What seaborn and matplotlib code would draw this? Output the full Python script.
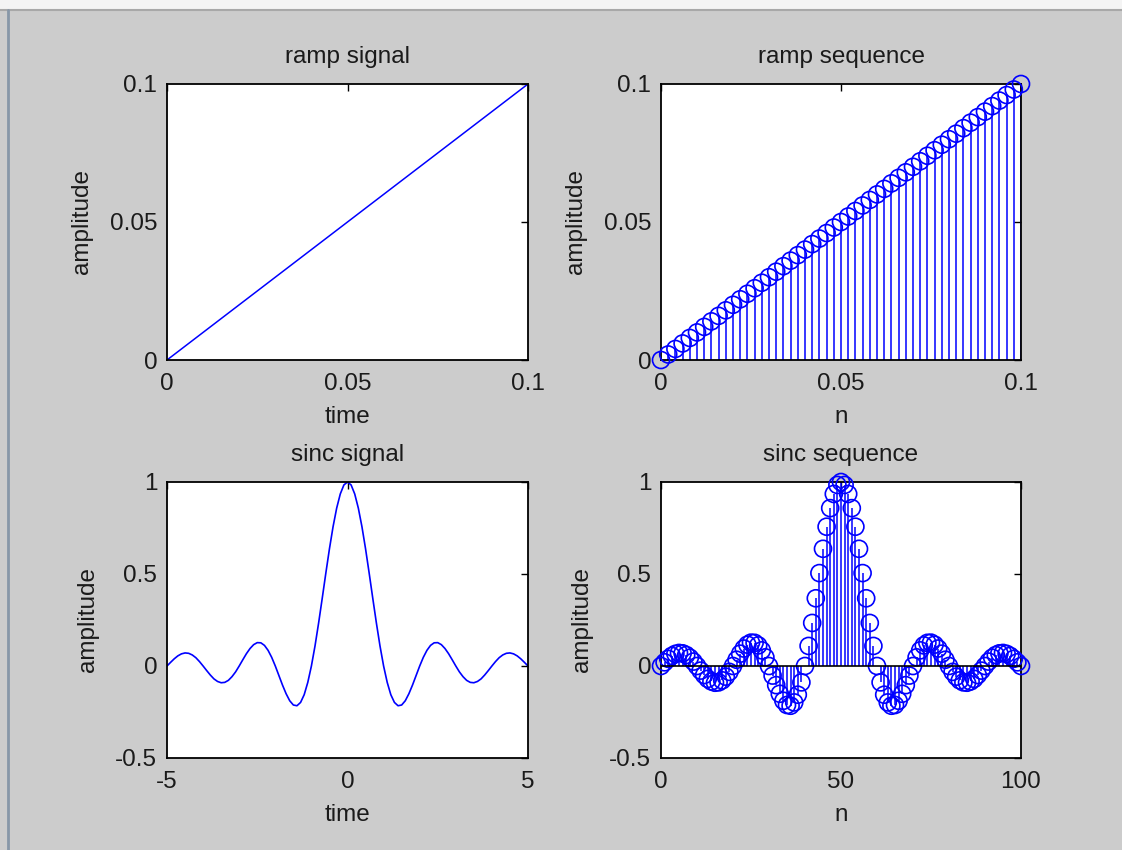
import numpy as np
import pandas as pd
import matplotlib
matplotlib.use("Agg")
import matplotlib.pyplot as plt
import seaborn as sns
from matplotlib.ticker import FormatStrFormatter
from matplotlib.patches import Rectangle
from matplotlib.lines import Line2D

# ramp: amplitude equals time / n, samples every 0.002
ramp_t = [0.0, 0.1]
ramp_amp = [0.0, 0.1]
ramp_n = [0.000, 0.002, 0.004, 0.006, 0.008, 0.010, 0.012, 0.014, 0.016, 0.018,
          0.020, 0.022, 0.024, 0.026, 0.028, 0.030, 0.032, 0.034, 0.036, 0.038,
          0.040, 0.042, 0.044, 0.046, 0.048, 0.050, 0.052, 0.054, 0.056, 0.058,
          0.060, 0.062, 0.064, 0.066, 0.068, 0.070, 0.072, 0.074, 0.076, 0.078,
          0.080, 0.082, 0.084, 0.086, 0.088, 0.090, 0.092, 0.094, 0.096, 0.098,
          0.100]
ramp_seq = [0.000, 0.002, 0.004, 0.006, 0.008, 0.010, 0.012, 0.014, 0.016, 0.018,
            0.020, 0.022, 0.024, 0.026, 0.028, 0.030, 0.032, 0.034, 0.036, 0.038,
            0.040, 0.042, 0.044, 0.046, 0.048, 0.050, 0.052, 0.054, 0.056, 0.058,
            0.060, 0.062, 0.064, 0.066, 0.068, 0.070, 0.072, 0.074, 0.076, 0.078,
            0.080, 0.082, 0.084, 0.086, 0.088, 0.090, 0.092, 0.094, 0.096, 0.098,
            0.100]

# sinc: 101 samples, t from -5 to 5 (signal) and n from 0 to 100 (sequence)
sinc_vals = [0.000, 0.020, 0.039, 0.055, 0.066, 0.071, 0.069, 0.060, 0.045, 0.024,
             0.000, -0.025, -0.049, -0.070, -0.084, -0.091, -0.089, -0.078, -0.058, -0.032,
             0.000, 0.034, 0.067, 0.095, 0.116, 0.127, 0.126, 0.112, 0.085, 0.047,
             0.000, -0.052, -0.104, -0.151, -0.189, -0.212, -0.216, -0.198, -0.156, -0.089,
             0.000, 0.109, 0.234, 0.368, 0.505, 0.637, 0.757, 0.858, 0.935, 0.984,
             1.000,
             0.984, 0.935, 0.858, 0.757, 0.637, 0.505, 0.368, 0.234, 0.109, 0.000,
             -0.089, -0.156, -0.198, -0.216, -0.212, -0.189, -0.151, -0.104, -0.052, 0.000,
             0.047, 0.085, 0.112, 0.126, 0.127, 0.116, 0.095, 0.067, 0.034, 0.000,
             -0.032, -0.058, -0.078, -0.089, -0.091, -0.084, -0.070, -0.049, -0.025, 0.000,
             0.024, 0.045, 0.060, 0.069, 0.071, 0.066, 0.055, 0.039, 0.020, 0.000]
sinc_t = np.round(np.arange(-50, 51) / 10, 1)
sinc_n = np.arange(0, 101)

sns.set_style("white")
plt.rcParams['font.family'] = ['Liberation Sans', 'DejaVu Sans']

BG = '#cccccc'
BLUE = '#0000ff'
FS = 17.5

fig = plt.figure(figsize=(11.22, 8.5), dpi=100, facecolor=BG)

# window chrome from the screenshot
fig.patches.append(Rectangle((0, 1 - 9 / 850), 1, 9 / 850, transform=fig.transFigure,
                             facecolor='#f4f4f4', edgecolor='none', zorder=-1))
fig.lines.append(Line2D([0, 1], [1 - 10 / 850] * 2, transform=fig.transFigure,
                        color='#a8a8a8', lw=1.5))
fig.lines.append(Line2D([8 / 1122] * 2, [0, 1 - 10 / 850], transform=fig.transFigure,
                        color='#8797a8', lw=2))

W, H = 1122, 850
def px_axes(x0, y0, x1, y1):
    return fig.add_axes([x0 / W, 1 - y1 / H, (x1 - x0) / W, (y1 - y0) / H])

ax1 = px_axes(167, 84, 528, 360)
ax2 = px_axes(661, 84, 1021, 360)
ax3 = px_axes(167, 482, 528, 758)
ax4 = px_axes(661, 482, 1021, 758)

# ramp signal
sns.lineplot(x=ramp_t, y=ramp_amp, ax=ax1, color=BLUE, lw=1.1)
ax1.set_xlim(0, 0.1)
ax1.set_ylim(0, 0.1)
ax1.set_xticks([0, 0.05, 0.1])
ax1.set_yticks([0, 0.05, 0.1])
ax1.set_title('ramp signal')
ax1.set_xlabel('time')
ax1.set_ylabel('amplitude')

# ramp sequence
ax2.vlines(ramp_n, 0, ramp_seq, color=BLUE, lw=1.1)
sns.scatterplot(x=ramp_n, y=ramp_seq, ax=ax2, marker='o', s=150,
                facecolor='none', edgecolor=BLUE, linewidth=1.2, zorder=3, clip_on=False)
ax2.set_xlim(0, 0.1)
ax2.set_ylim(0, 0.1)
ax2.set_xticks([0, 0.05, 0.1])
ax2.set_yticks([0, 0.05, 0.1])
ax2.set_title('ramp sequence')
ax2.set_xlabel('n')
ax2.set_ylabel('amplitude')

# sinc signal
sns.lineplot(x=sinc_t, y=sinc_vals, ax=ax3, color=BLUE, lw=1.2)
ax3.set_xlim(-5, 5)
ax3.set_ylim(-0.5, 1)
ax3.set_xticks([-5, 0, 5])
ax3.set_yticks([-0.5, 0, 0.5, 1])
ax3.set_title('sinc signal')
ax3.set_xlabel('time')
ax3.set_ylabel('amplitude')

# sinc sequence
ax4.vlines(sinc_n, 0, sinc_vals, color=BLUE, lw=1.1)
sns.scatterplot(x=sinc_n, y=sinc_vals, ax=ax4, marker='o', s=150,
                facecolor='none', edgecolor=BLUE, linewidth=1.2, zorder=3, clip_on=False)
ax4.axhline(0, color='black', lw=1.2, zorder=4)
ax4.set_xlim(0, 100)
ax4.set_ylim(-0.5, 1)
ax4.set_xticks([0, 50, 100])
ax4.set_yticks([-0.5, 0, 0.5, 1])
ax4.set_title('sinc sequence')
ax4.set_xlabel('n')
ax4.set_ylabel('amplitude')

for ax in (ax1, ax2, ax3, ax4):
    ax.set_facecolor('white')
    ax.xaxis.set_major_formatter(FormatStrFormatter('%g'))
    ax.yaxis.set_major_formatter(FormatStrFormatter('%g'))
    ax.tick_params(direction='in', length=5, width=1, color='black',
                   top=True, right=True, labelsize=FS, labelcolor='#1a1a1a')
    ax.tick_params(axis='x', pad=9)
    ax.tick_params(axis='y', pad=7)
    ax.xaxis.label.set_fontsize(FS)
    ax.yaxis.label.set_fontsize(FS)
    ax.xaxis.label.set_color('#1a1a1a')
    ax.yaxis.label.set_color('#1a1a1a')
    ax.xaxis.labelpad = 8
    ax.yaxis.labelpad = 12
    for sp in ax.spines.values():
        sp.set_visible(True)
        sp.set_color('black')
        sp.set_linewidth(1.3)
    ax.set_title(ax.get_title(), fontsize=FS, pad=15, color='#1a1a1a')

fig.savefig('out.png', dpi=100, facecolor=BG)
